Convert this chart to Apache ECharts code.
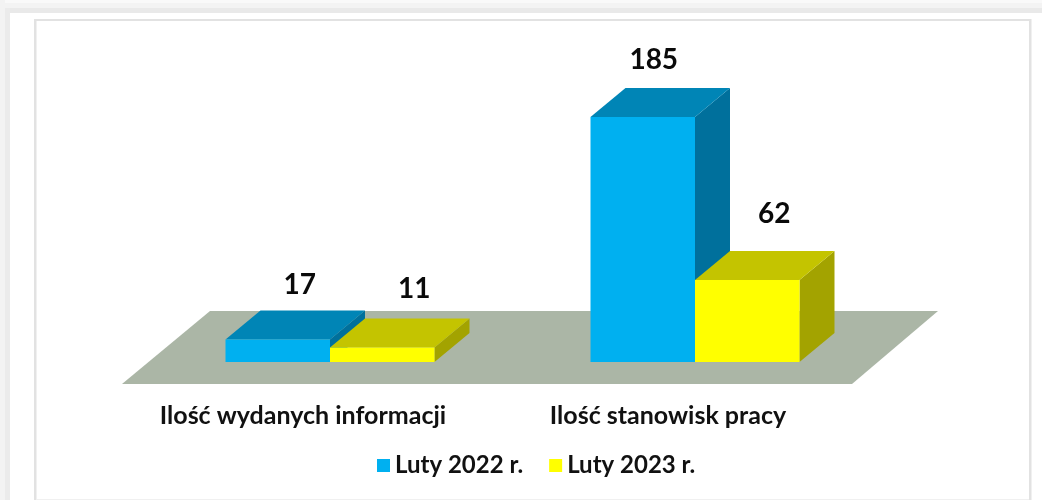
<!DOCTYPE html>
<html>
<head>
<meta charset="utf-8">
<style>
  html, body { margin: 0; padding: 0; background: #fff; }
  #main { width: 1042px; height: 500px; filter: blur(0.5px); }
</style>
</head>
<body>
<div id="main"></div>
<script src="https://cdn.jsdelivr.net/npm/echarts@6/dist/echarts.min.js"></script>
<script>
const categories = ['Ilość wydanych informacji', 'Ilość stanowisk pracy']
const seriesNames = ['Luty 2022 r.', 'Luty 2023 r.']
const values2022 = [17, 185]
const values2023 = [11, 62]

// label nudges from the back top corner area, the original labels were placed by hand
const labelNudge2022 = [[22, -26], [11, -28]]
const labelNudge2023 = [[32, -29], [27, -37]]

const barWidth = 104.5
const depthX = 35
const depthY = 29
const fontName = 'Lato'

function barRender(sign, nudges, colors) {
  return function (params, api) {
    const i = params.dataIndex
    const value = api.value(1)
    const top = api.coord([api.value(0), value])
    const base = api.coord([api.value(0), 0])
    const x0 = sign < 0 ? top[0] - barWidth : top[0]
    const x1 = x0 + barWidth
    const y0 = top[1]
    const y1 = base[1]
    const poly = (points, fill) => ({
      type: 'polygon',
      shape: { points: points },
      style: { fill: fill }
    })
    return {
      type: 'group',
      children: [
        poly([[x1, y0], [x1 + depthX, y0 - depthY], [x1 + depthX, y1 - depthY], [x1, y1]], colors.side),
        poly([[x0, y0], [x0 + depthX, y0 - depthY], [x1 + depthX, y0 - depthY], [x1, y0]], colors.top),
        poly([[x0, y0], [x1, y0], [x1, y1], [x0, y1]], colors.front),
        {
          type: 'text',
          x: (x0 + x1) / 2 + nudges[i][0],
          y: y0 - depthY + nudges[i][1],
          style: {
            text: String(value),
            fill: '#0a0a0a',
            font: 'bold 28px ' + fontName,
            align: 'center',
            verticalAlign: 'middle'
          }
        }
      ]
    }
  }
}

function floorRender(params) {
  const g = params.coordSys
  const front = g.y + g.height + 22
  const back = g.y + g.height - 51
  return {
    type: 'polygon',
    shape: {
      points: [
        [g.x - 25.5, front],
        [g.x + g.width - 25.5, front],
        [g.x + g.width + 60.5, back],
        [g.x + 62.5, back]
      ]
    },
    style: { fill: '#abb6a6' }
  }
}

function band(x, y, width, height, fill) {
  return { type: 'rect', z: -10, silent: true, shape: { x, y, width, height }, style: { fill } }
}

const chart = echarts.init(document.getElementById('main'), null, { renderer: 'canvas' })
chart.setOption({
  animation: false,
  backgroundColor: '#fff',
  graphic: [
    band(0, 0, 1042, 3, '#f9f9f9'),
    band(0, 3, 1042, 5, '#f3f3f3'),
    band(0, 8, 1042, 5, '#e9e9e9'),
    band(0, 0, 5, 500, '#f3f3f3'),
    band(5, 8, 5, 492, '#ebebeb'),
    band(34, 19, 997, 2, '#e2e2e2'),
    band(34, 19, 2.5, 481, '#e2e2e2'),
    band(1029, 19, 2.5, 481, '#e2e2e2'),
    band(36, 499, 993, 1, '#f0f0f0')
  ],
  grid: { left: 147.5, top: 97.2, width: 730, height: 264.8 },
  legend: {
    data: seriesNames,
    left: 372,
    top: 448.5,
    icon: 'rect',
    itemWidth: 13,
    itemHeight: 13,
    itemGap: 26,
    selectedMode: false,
    textStyle: { color: '#111', fontFamily: fontName, fontWeight: 'bold', fontSize: 24 }
  },
  xAxis: {
    type: 'category',
    data: categories,
    axisLine: { show: false },
    axisTick: { show: false },
    axisLabel: {
      interval: 0,
      margin: 41,
      padding: [0, 54, 0, 0],
      color: '#111',
      fontFamily: fontName,
      fontWeight: 'bold',
      fontSize: 25
    }
  },
  yAxis: { type: 'value', min: 0, max: 200, show: false },
  series: [
    {
      type: 'custom',
      name: 'floor',
      silent: true,
      z: 1,
      data: [[0, 0]],
      renderItem: floorRender
    },
    {
      type: 'custom',
      name: seriesNames[0],
      z: 2,
      clip: false,
      itemStyle: { color: '#00b0f0' },
      data: values2022.map((v, i) => [i, v]),
      renderItem: barRender(-1, labelNudge2022, { front: '#00b0f0', top: '#0085b6', side: '#00709c' })
    },
    {
      type: 'custom',
      name: seriesNames[1],
      z: 3,
      clip: false,
      itemStyle: { color: '#ffff00' },
      data: values2023.map((v, i) => [i, v]),
      renderItem: barRender(1, labelNudge2023, { front: '#ffff00', top: '#c4c400', side: '#a3a300' })
    }
  ]
})
</script>
</body>
</html>
